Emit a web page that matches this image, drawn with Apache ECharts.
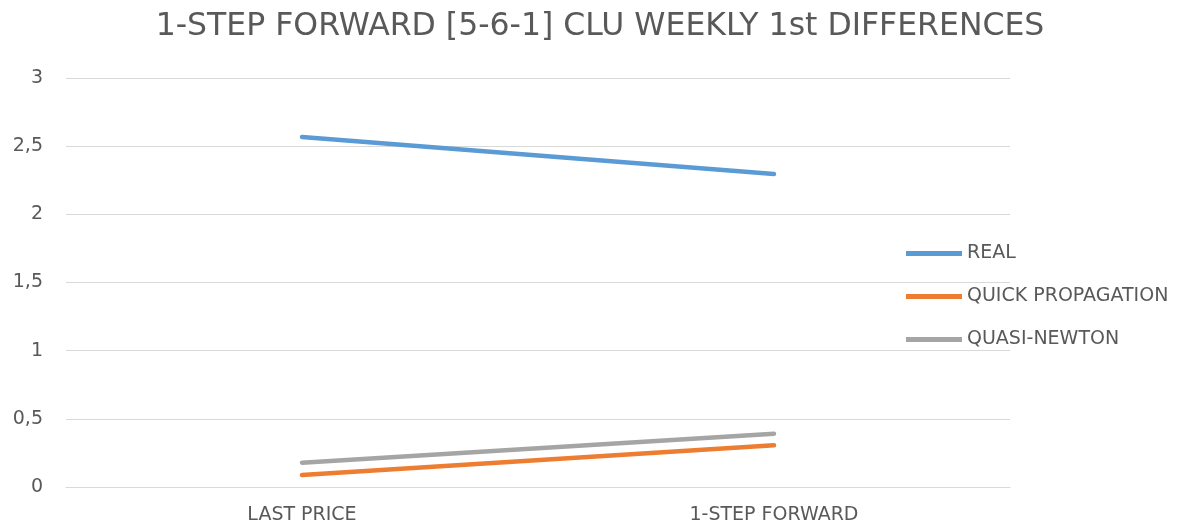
<!DOCTYPE html>
<html>
<head>
<meta charset="utf-8">
<script src="https://cdn.jsdelivr.net/npm/echarts@6/dist/echarts.min.js"></script>
<style>
  html, body { margin: 0; padding: 0; background: #fff; }
  #chart { width: 1200px; height: 526px; }
</style>
</head>
<body>
<div id="chart"></div>
<script>
// Categories and series values
const categories = ['LAST PRICE', '1-STEP FORWARD'];
const realValues = [2.567, 2.296];
const quickPropValues = [0.088, 0.306];
const quasiNewtonValues = [0.178, 0.391];
const seriesNames = ['REAL', 'QUICK PROPAGATION', 'QUASI-NEWTON'];
const seriesColors = ['#5B9BD5', '#ED7D31', '#A5A5A5'];

const font = 'DejaVu Sans, Liberation Sans, sans-serif';

const chart = echarts.init(document.getElementById('chart'), null, { renderer: 'canvas' });

function lineSeries(name, data, color) {
  return {
    name: name,
    type: 'line',
    data: data,
    symbol: 'none',
    showSymbol: false,
    lineStyle: { width: 4.5, color: color, cap: 'round' },
    itemStyle: { color: color }
  };
}

chart.setOption({
  animation: false,
  backgroundColor: '#ffffff',
  title: {
    text: '1-STEP FORWARD [5-6-1] CLU WEEKLY 1st DIFFERENCES',
    left: 'center',
    top: 6,
    textStyle: { fontFamily: font, fontSize: 31.5, fontWeight: 'normal', color: '#595959' }
  },
  legend: {
    orient: 'vertical',
    left: 901,
    top: 239,
    itemWidth: 56,
    itemHeight: 14,
    itemGap: 24,
    icon: 'path://M0,0 L56,0 L56,5 L0,5 Z',
    data: seriesNames,
    textStyle: { fontFamily: font, fontSize: 19, lineHeight: 16, color: '#595959', padding: [0, 0, 0, 0] }
  },
  grid: { left: 66, right: 190, top: 78, bottom: 39, containLabel: false },
  xAxis: {
    type: 'category',
    data: categories,
    boundaryGap: true,
    axisLine: { show: true, lineStyle: { color: '#d9d9d9', width: 1 } },
    axisTick: { show: false },
    axisLabel: { fontFamily: font, fontSize: 19, color: '#595959', margin: 19 }
  },
  yAxis: {
    type: 'value',
    min: 0,
    max: 3,
    interval: 0.5,
    axisLine: { show: false },
    axisTick: { show: false },
    splitLine: { lineStyle: { color: '#d9d9d9', width: 1 } },
    axisLabel: {
      fontFamily: font, fontSize: 19, color: '#595959', margin: 23,
      formatter: v => String(v).replace('.', ',')
    }
  },
  series: [
    lineSeries(seriesNames[0], realValues, seriesColors[0]),
    lineSeries(seriesNames[1], quickPropValues, seriesColors[1]),
    lineSeries(seriesNames[2], quasiNewtonValues, seriesColors[2])
  ]
});
</script>
</body>
</html>
